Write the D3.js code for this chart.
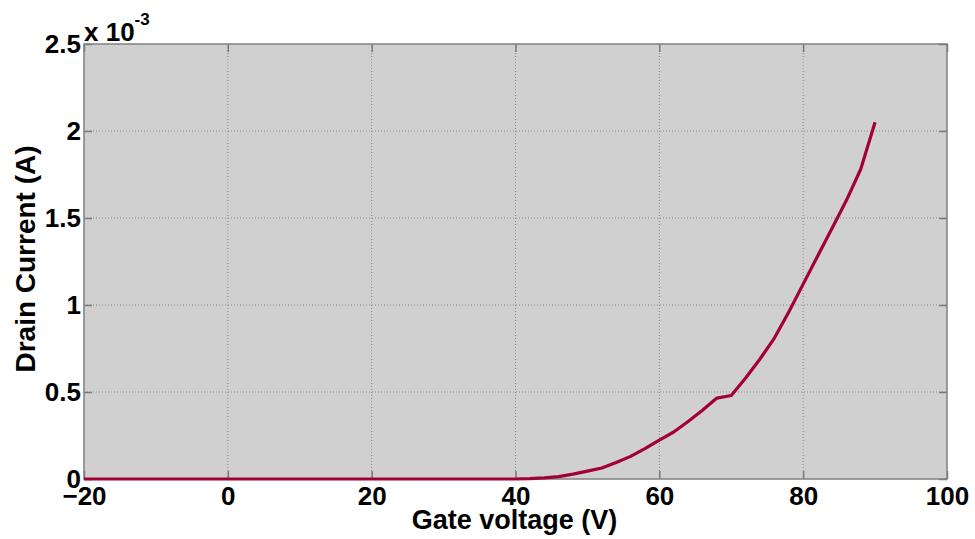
<!DOCTYPE html>
<html>
<head>
<meta charset="utf-8">
<script src="https://cdn.jsdelivr.net/npm/d3@7"></script>
<style>
  body { margin: 0; background: #fff; }
  text { font-family: "Liberation Sans", Arial, sans-serif; font-weight: bold; }
</style>
</head>
<body>
<script>
// gate voltage (V) and drain current (x 10^-3 A)
var voltage = [-20, -10, 0, 10, 20, 30, 40, 42, 44, 46, 48, 50, 52, 54, 56, 58, 60, 62, 64, 66, 68, 70, 72, 74, 76, 78, 80, 82, 84, 86, 88, 90];
var current = [0, 0, 0, 0, 0, 0, 0, 0.002, 0.006, 0.014, 0.028, 0.045, 0.063, 0.095, 0.13, 0.175, 0.224, 0.27, 0.33, 0.395, 0.465, 0.48, 0.58, 0.69, 0.81, 0.96, 1.12, 1.28, 1.44, 1.6, 1.78, 2.05];

var xTicks = [-20, 0, 20, 40, 60, 80, 100];
var yTicks = [0, 0.5, 1, 1.5, 2, 2.5];

var width = 975, height = 539;
var margin = {top: 44, right: 28, bottom: 60, left: 84};
var pw = width - margin.left - margin.right;
var ph = height - margin.top - margin.bottom;

var svg = d3.select("body").append("svg")
    .attr("width", width)
    .attr("height", height);

var g = svg.append("g")
    .attr("transform", "translate(" + margin.left + "," + margin.top + ")");

var x = d3.scaleLinear().domain([-20, 100]).range([0, pw]);
var y = d3.scaleLinear().domain([0, 2.5]).range([ph, 0]);

g.append("rect")
    .attr("width", pw)
    .attr("height", ph)
    .attr("fill", "#d0d0d0");

// grid
g.selectAll(".vgrid")
    .data(xTicks.slice(1, -1))
    .enter().append("line")
    .attr("x1", function(d) { return x(d); })
    .attr("x2", function(d) { return x(d); })
    .attr("y1", 0)
    .attr("y2", ph)
    .attr("stroke", "#8a8a8a")
    .attr("stroke-width", 1)
    .attr("stroke-dasharray", "1,2");

g.selectAll(".hgrid")
    .data(yTicks.slice(1, -1))
    .enter().append("line")
    .attr("x1", 0)
    .attr("x2", pw)
    .attr("y1", function(d) { return y(d); })
    .attr("y2", function(d) { return y(d); })
    .attr("stroke", "#8a8a8a")
    .attr("stroke-width", 1)
    .attr("stroke-dasharray", "1,2");

// axes with inward ticks
var xAxis = d3.axisBottom(x).tickValues(xTicks).tickSizeInner(-8).tickSizeOuter(0).tickPadding(8);
var xAxisTop = d3.axisTop(x).tickValues(xTicks).tickSizeInner(-8).tickSizeOuter(0).tickFormat("");
var yAxis = d3.axisLeft(y).tickValues(yTicks).tickSizeInner(-8).tickSizeOuter(0).tickPadding(3)
    .tickFormat(function(d) { return d; });
var yAxisRight = d3.axisRight(y).tickValues(yTicks).tickSizeInner(-8).tickSizeOuter(0).tickFormat("");

function style(sel) {
  sel.select(".domain").remove();
  sel.selectAll(".tick line").attr("stroke", "#7a7a7a").attr("stroke-width", 1.5);
  sel.selectAll(".tick text").attr("fill", "#000").style("font-size", "26px").style("font-family", "Liberation Sans, Arial, sans-serif").style("font-weight", "bold");
}

g.append("g").attr("transform", "translate(0," + ph + ")").call(xAxis).call(style);
g.append("g").call(xAxisTop).call(style);
g.append("g").call(yAxis).call(style);
g.append("g").attr("transform", "translate(" + pw + ",0)").call(yAxisRight).call(style);

// frame
g.append("rect")
    .attr("width", pw)
    .attr("height", ph)
    .attr("fill", "none")
    .attr("stroke", "#808080")
    .attr("stroke-width", 1.5);

// curve
var pts = voltage.map(function(v, i) { return [v, current[i]]; });
var line = d3.line()
    .x(function(d) { return x(d[0]); })
    .y(function(d) { return y(d[1]); });

g.append("path")
    .datum(pts)
    .attr("d", line)
    .attr("fill", "none")
    .attr("stroke", "#a3003a")
    .attr("stroke-width", 3.2)
    .attr("stroke-linejoin", "round");

// exponent label
var expo = svg.append("text")
    .attr("x", margin.left)
    .attr("y", 41)
    .style("font-size", "26px")
    .text("x 10");
expo.append("tspan")
    .attr("dy", -16)
    .style("font-size", "17px")
    .text("-3");

// axis titles
svg.append("text")
    .attr("x", margin.left + pw / 2 - 1)
    .attr("y", 529)
    .attr("text-anchor", "middle")
    .style("font-size", "27px")
    .text("Gate voltage (V)");

svg.append("text")
    .attr("transform", "translate(35," + 259 + ") rotate(-90)")
    .attr("text-anchor", "middle")
    .style("font-size", "28px")
    .text("Drain Current (A)");
</script>
</body>
</html>
